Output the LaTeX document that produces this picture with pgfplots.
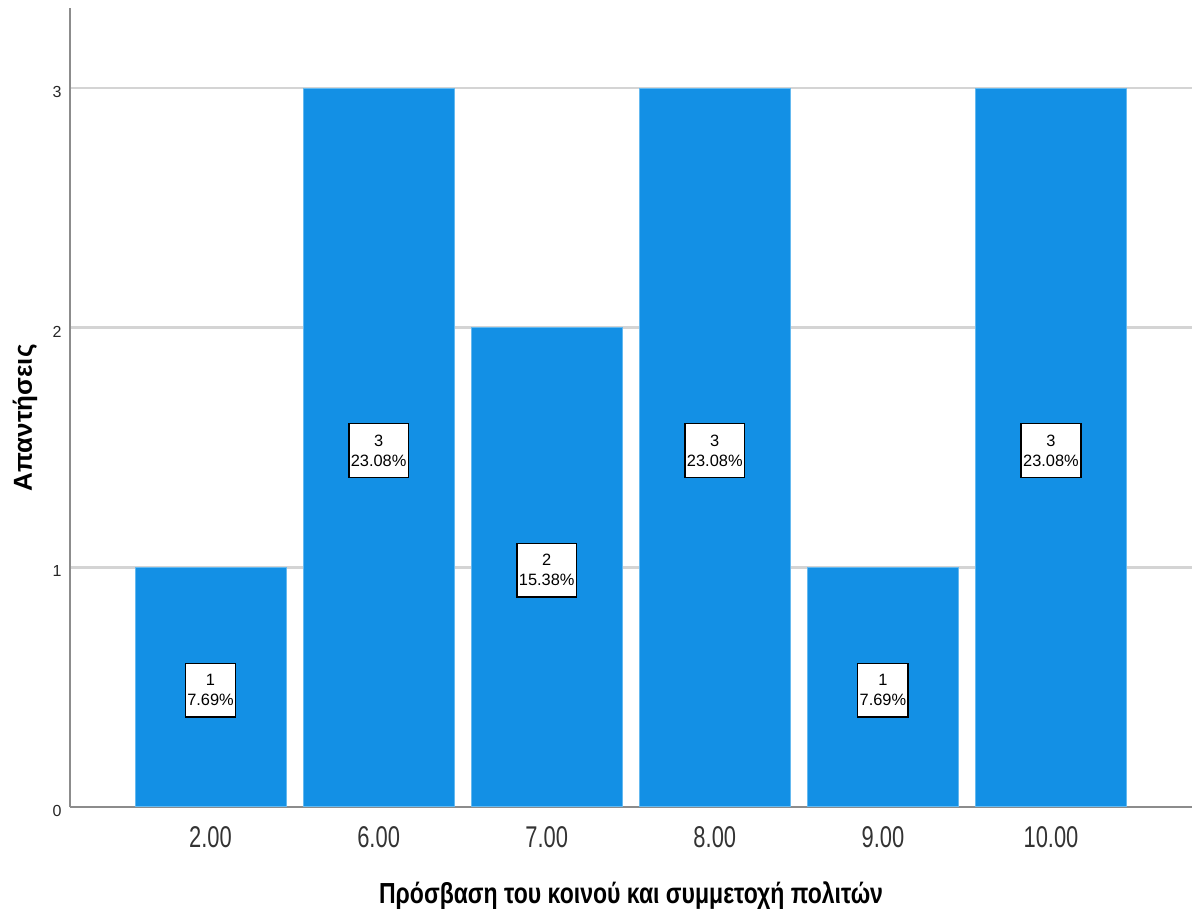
\documentclass[border=0pt]{standalone}
\usepackage{fontspec}
\setmainfont{Liberation Sans}
\usepackage{pgfplots}
\usepackage{pgfplotstable}
\pgfplotsset{compat=1.18}
\definecolor{barblue}{RGB}{19,144,229}
\definecolor{baredge}{RGB}{100,185,240}
\definecolor{gridgray}{RGB}{212,212,212}
\definecolor{axisgray}{RGB}{140,140,140}

\pgfplotstableread{
x y pct
0 1 7.69
1 3 23.08
2 2 15.38
3 3 23.08
4 1 7.69
5 3 23.08
}\datatable

\begin{document}
\begin{tikzpicture}
\path[use as bounding box] (0,0) rectangle (596pt,457pt);
\begin{axis}[
  at={(35pt,53.5pt)}, anchor=south west,
  scale only axis, width=561pt, height=399.5pt,
  xmin=-0.836, xmax=5.839, ymin=0, ymax=3.334,
  axis x line*=bottom, axis y line*=left,
  axis line style={draw=axisgray, line width=1pt, -},
  xtick={0,...,5}, xticklabels={2.00,6.00,7.00,8.00,9.00,10.00},
  ytick={0,1,2,3},
  major tick length=0pt,
  ymajorgrids, grid style={draw=gridgray, line width=1.3pt},
  xticklabel style={font=\fontsize{15}{18}\selectfont, xscale=0.73, anchor=base, yshift=-20.5pt, text=black!80},
  yticklabel style={font=\fontsize{8}{10}\selectfont, anchor=east, xshift=-4pt, yshift=-2pt, inner sep=0pt, text=black!85},
  xlabel={Πρόσβαση του κοινού και συμμετοχή πολιτών},
  xlabel style={font=\bfseries\fontsize{14.5}{17}\selectfont, xscale=0.794, at={(axis description cs:0.5,-0.1214)}, anchor=base},
  ylabel={Απαντήσεις},
  ylabel style={font=\bfseries\fontsize{13}{15}\selectfont, at={(axis description cs:-0.0401,0.487)}, anchor=center},
  /pgf/number format/assume math mode=true,
]
\addplot[ybar, bar width=0.898, fill=barblue, draw=baredge, line width=0.5pt] table[x=x,y=y]{\datatable};
\addplot[draw=none, mark=none,
  visualization depends on={\thisrow{y}\as\cnt},
  visualization depends on={\thisrow{pct}\as\pctv},
  nodes near coords={\pgfmathprintnumber{\cnt}\\\pgfmathprintnumber[fixed,fixed zerofill,precision=2]{\pctv}\%},
  every node near coord/.style={anchor=center, yshift=-1.5pt, fill=white, draw=black, line width=0.7pt, align=center, font=\fontsize{8.2}{10}\selectfont, inner xsep=1pt, inner ysep=5.5pt, text=black}
] table[x=x, y expr=\thisrow{y}/2]{\datatable};
\end{axis}
\end{tikzpicture}
\end{document}
